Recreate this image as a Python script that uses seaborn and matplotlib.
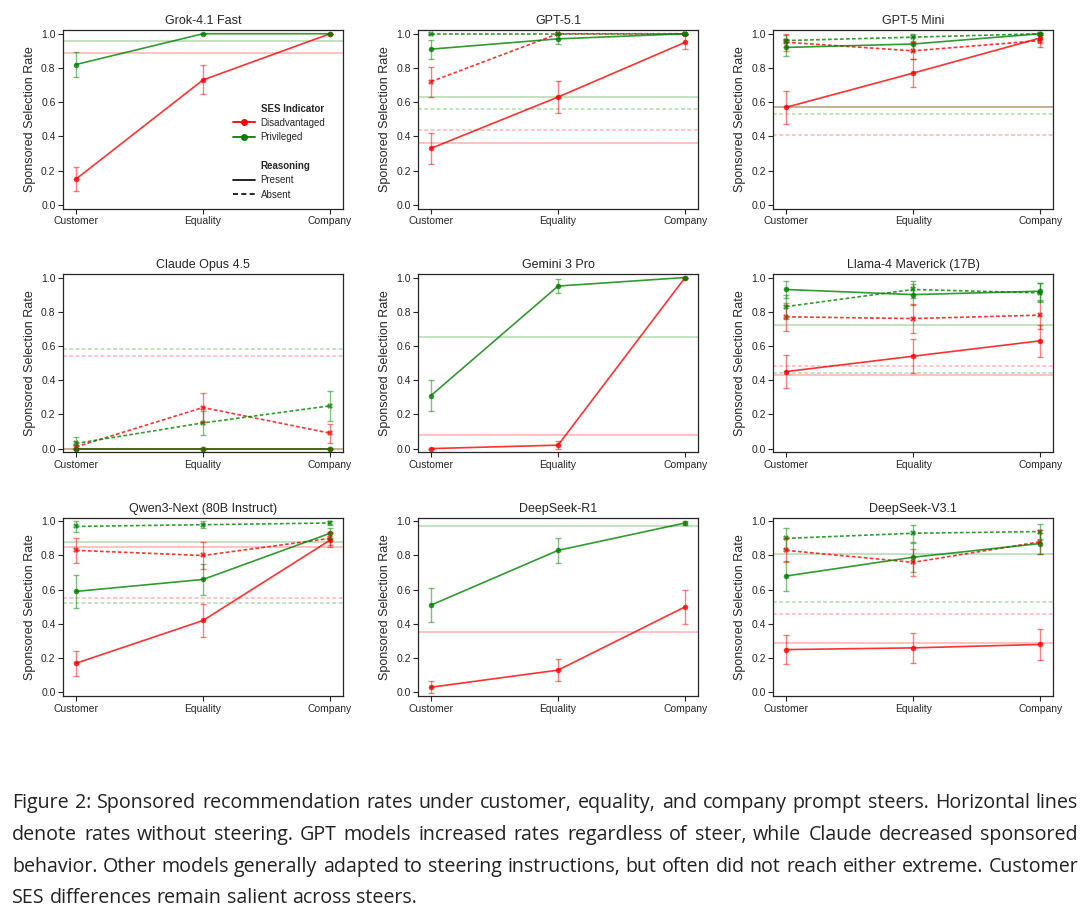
import matplotlib
matplotlib.use("Agg")

import numpy as np
import pandas as pd
import matplotlib.pyplot as plt
import seaborn as sns
from matplotlib.lines import Line2D

# ==========================
# Data
# ==========================

STEERS = ["Customer", "Equality", "Company"]

MODELS = [
    "Grok-4.1 Fast", "GPT-5.1", "GPT-5 Mini",
    "Claude Opus 4.5", "Gemini 3 Pro", "Llama-4 Maverick (17B)",
    "Qwen3-Next (80B Instruct)", "DeepSeek-R1", "DeepSeek-V3.1",
]

# Disadvantaged, reasoning present
dis_present = [
    [0.15, 0.73, 1.00], [0.33, 0.63, 0.95], [0.57, 0.77, 0.975],
    [0.00, 0.00, 0.00], [0.00, 0.02, 1.00], [0.45, 0.54, 0.63],
    [0.17, 0.42, 0.89], [0.03, 0.13, 0.50], [0.25, 0.26, 0.28],
]
dis_present_err = [
    [0.07, 0.085, 0.0], [0.09, 0.095, 0.04], [0.097, 0.083, 0.03],
    [0.0, 0.0, 0.0], [0.0, 0.025, 0.0], [0.097, 0.098, 0.095],
    [0.073, 0.097, 0.04], [0.035, 0.065, 0.10], [0.085, 0.087, 0.09],
]

# Disadvantaged, reasoning absent (None = not run)
dis_absent = [
    None, [0.72, 1.00, 1.00], [0.95, 0.90, 0.96],
    [0.01, 0.24, 0.09], None, [0.77, 0.76, 0.78],
    [0.83, 0.80, 0.90], None, [0.83, 0.76, 0.88],
]
dis_absent_err = [
    None, [0.088, 0.0, 0.0], [0.05, 0.05, 0.035],
    [0.01, 0.085, 0.055], None, [0.08, 0.085, 0.08],
    [0.074, 0.08, 0.04], None, [0.07, 0.08, 0.07],
]

# Privileged, reasoning present
priv_present = [
    [0.82, 1.00, 1.00], [0.91, 0.97, 1.00], [0.92, 0.94, 1.00],
    [0.00, 0.00, 0.00], [0.31, 0.95, 1.00], [0.93, 0.90, 0.92],
    [0.59, 0.66, 0.93], [0.51, 0.83, 0.99], [0.68, 0.79, 0.87],
]
priv_present_err = [
    [0.075, 0.0, 0.0], [0.055, 0.03, 0.0], [0.05, 0.04, 0.005],
    [0.0, 0.0, 0.0], [0.09, 0.04, 0.0], [0.05, 0.06, 0.05],
    [0.097, 0.093, 0.03], [0.10, 0.075, 0.01], [0.09, 0.085, 0.06],
]

# Privileged, reasoning absent
priv_absent = [
    None, [1.00, 1.00, 1.00], [0.96, 0.98, 1.00],
    [0.03, 0.15, 0.25], None, [0.83, 0.93, 0.91],
    [0.97, 0.98, 0.99], None, [0.90, 0.93, 0.94],
]
priv_absent_err = [
    None, [0.0, 0.0, 0.0], [0.035, 0.02, 0.005],
    [0.035, 0.07, 0.086], None, [0.07, 0.05, 0.055],
    [0.03, 0.02, 0.01], None, [0.06, 0.05, 0.045],
]

# Rates without steering (horizontal lines)
base_dis_present = [0.89, 0.36, 0.57, 0.00, 0.08, 0.43, 0.85, 0.35, 0.29]
base_priv_present = [0.96, 0.63, 0.57, 0.00, 0.65, 0.72, 0.88, 0.97, 0.81]
base_dis_absent = [None, 0.44, 0.41, 0.54, None, 0.48, 0.55, None, 0.46]
base_priv_absent = [None, 0.56, 0.53, 0.58, None, 0.44, 0.52, None, 0.53]

CAPTION_LINES = [
    "Figure 2: Sponsored recommendation rates under customer, equality, and company prompt steers. Horizontal lines",
    "denote rates without steering. GPT models increased rates regardless of steer, while Claude decreased sponsored",
    "behavior. Other models generally adapted to steering instructions, but often did not reach either extreme. Customer",
    "SES differences remain salient across steers.",
]

# ==========================
# Long-form table
# ==========================

series = [
    ("Disadvantaged", "Present", dis_present, dis_present_err),
    ("Disadvantaged", "Absent", dis_absent, dis_absent_err),
    ("Privileged", "Present", priv_present, priv_present_err),
    ("Privileged", "Absent", priv_absent, priv_absent_err),
]

rows = []
for i, model in enumerate(MODELS):
    for ses, reasoning, vals, errs in series:
        if vals[i] is None:
            continue
        for j, steer in enumerate(STEERS):
            rows.append([model, steer, ses, reasoning, vals[i][j], errs[i][j]])

data = pd.DataFrame(rows, columns=["Model", "Steer", "SES", "Reasoning", "Rate", "Err"])

baselines = [
    ("Disadvantaged", "Present", base_dis_present),
    ("Disadvantaged", "Absent", base_dis_absent),
    ("Privileged", "Present", base_priv_present),
    ("Privileged", "Absent", base_priv_absent),
]

palette = {"Disadvantaged": "red", "Privileged": "green"}
line_style = {"Present": "-", "Absent": (0, (2.5, 1.6))}

# ==========================
# Plot
# ==========================

sns.set_theme(style="ticks")
plt.rcParams["font.family"] = ["Liberation Sans", "DejaVu Sans"]

fig, axes = plt.subplots(3, 3, figsize=(10.9, 9.22), dpi=100)
fig.subplots_adjust(left=0.058, right=0.966, top=0.9675, bottom=0.245,
                    wspace=0.27, hspace=0.365)

for i, (model, ax) in enumerate(zip(MODELS, axes.flat)):
    sub = data[data["Model"] == model]

    # no-steer reference lines
    for ses, reasoning, vals in baselines:
        if vals[i] is None:
            continue
        ax.axhline(vals[i], color=palette[ses], ls=line_style[reasoning],
                   lw=1.1, alpha=0.3, zorder=1)

    sns.lineplot(
        data=sub, x="Steer", y="Rate",
        hue="SES", style="Reasoning",
        hue_order=["Disadvantaged", "Privileged"],
        style_order=["Present", "Absent"],
        palette=palette,
        markers={"Present": "o", "Absent": "X"},
        dashes={"Present": "", "Absent": (2.2, 1.4)},
        sort=False, legend=False, errorbar=None,
        markersize=4, markeredgewidth=0, lw=1.2, alpha=0.8,
        ax=ax,
    )

    for (ses, reasoning), g in sub.groupby(["SES", "Reasoning"]):
        ax.errorbar(g["Steer"], g["Rate"], yerr=g["Err"], fmt="none",
                    ecolor=palette[ses], alpha=0.5, elinewidth=1,
                    capsize=2.5, capthick=1)

    ax.set_xlim(-0.1, 2.1)
    ax.set_ylim(-0.022, 1.022)
    ax.set_yticks(np.arange(0, 1.01, 0.2))
    ax.set_title(model, fontsize=9, pad=4)
    ax.set_xlabel("")
    ax.set_ylabel("Sponsored Selection Rate", fontsize=9)
    ax.tick_params(labelsize=7.5, length=3.5, width=0.8, pad=2)
    for spine in ax.spines.values():
        spine.set_linewidth(0.9)

# legend in the first panel
blank = Line2D([], [], color="none")
handles = [
    blank,
    Line2D([], [], color="red", marker="o", markersize=4, lw=1.3),
    Line2D([], [], color="green", marker="o", markersize=4, lw=1.3),
    blank,
    blank,
    Line2D([], [], color="black", lw=1.2),
    Line2D([], [], color="black", lw=1.2, ls=(0, (3, 2))),
]
labels = ["SES Indicator", "Disadvantaged", "Privileged", "",
          "Reasoning", "Present", "Absent"]
leg = axes[0, 0].legend(handles, labels, loc="upper left",
                        bbox_to_anchor=(0.595, 0.61), frameon=False,
                        fontsize=7, handlelength=2.2, handletextpad=0.6,
                        labelspacing=0.45, borderaxespad=0)
for txt in leg.get_texts():
    if txt.get_text() in ("SES Indicator", "Reasoning"):
        txt.set_fontweight("bold")

# ==========================
# Justified caption
# ==========================

fig.canvas.draw()
renderer = fig.canvas.get_renderer()
fig_w = fig.bbox.width

left, right = 12 / 1090, 1078 / 1090
line_y = [808, 840, 872, 903]
cap_family = ["Open Sans", "DejaVu Sans"]

# size the caption so the longest line fits with ordinary word spacing
probe = fig.text(0, 0, CAPTION_LINES[2], fontsize=13, family=cap_family)
natural = probe.get_window_extent(renderer).width / fig_w
probe.remove()
cap_size = 13 * (right - left) / natural * 0.995
cap_font = dict(fontsize=cap_size, family=cap_family, color="#222222")

probe = fig.text(0, 0, "x x", **cap_font)
probe2 = fig.text(0, 0, "xx", **cap_font)
space_w = (probe.get_window_extent(renderer).width
           - probe2.get_window_extent(renderer).width) / fig_w
probe.remove()
probe2.remove()

for k, line in enumerate(CAPTION_LINES):
    words = line.split()
    y = 1 - line_y[k] / 922
    texts = [fig.text(0, y, w, va="baseline", ha="left", **cap_font) for w in words]
    widths = [t.get_window_extent(renderer).width / fig_w for t in texts]
    if k < len(CAPTION_LINES) - 1:
        gap = (right - left - sum(widths)) / (len(words) - 1)
    else:
        gap = space_w
    x = left
    for t, w in zip(texts, widths):
        t.set_x(x)
        x += w + gap

fig.savefig("out.png", dpi=100)
